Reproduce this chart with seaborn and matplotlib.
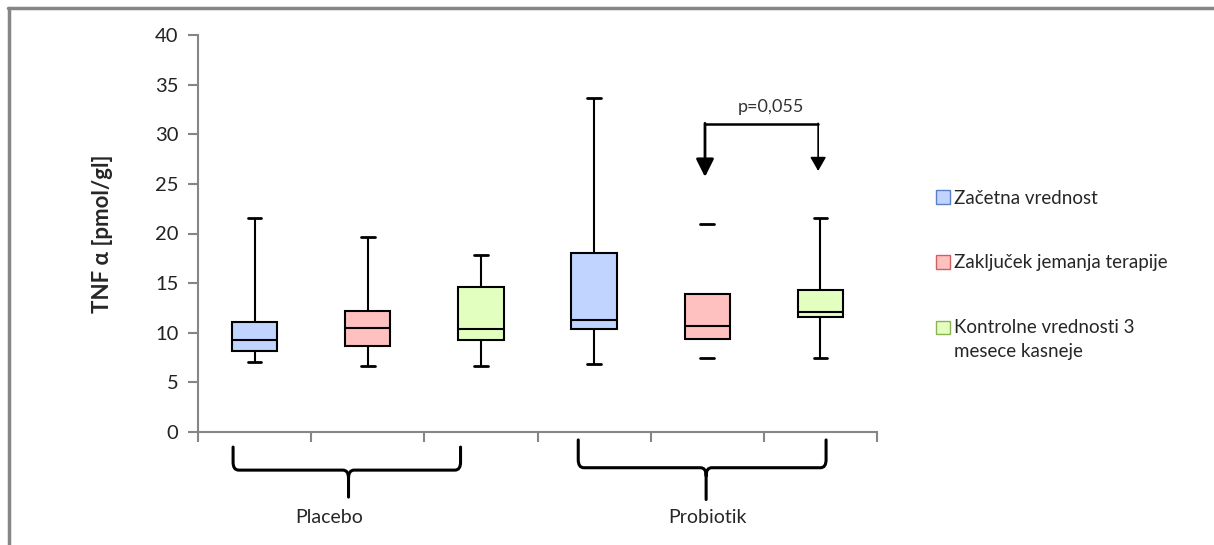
import numpy as np
import pandas as pd
import matplotlib
matplotlib.use('Agg')
import matplotlib.pyplot as plt
from matplotlib.patches import Patch
from matplotlib.path import Path
from matplotlib.patches import PathPatch
from matplotlib.lines import Line2D
import seaborn as sns

# 박스 통계
slots = [0, 1, 2, 3, 4, 5]
groups = ['Placebo', 'Probiotik']
timepoints = ['Začetna vrednost', 'Zaključek jemanja terapije',
              'Kontrolne vrednosti 3\nmesece kasneje']
slot_timepoint = [0, 1, 2, 0, 1, 2]
whisker_low = [7.1, 6.7, 6.6, 6.9, 7.5, 7.5]
q1 = [8.2, 8.7, 9.3, 10.4, 9.4, 11.6]
median = [9.3, 10.5, 10.4, 11.3, 10.7, 12.1]
q3 = [11.1, 12.2, 14.6, 18.0, 13.9, 14.3]
whisker_high = [21.6, 19.6, 17.8, 33.7, 21.0, 21.6]

p_text = 'p=0,055'
ylabel = 'TNF α [pmol/gl]'

fills = ['#C0D4FF', '#FFC0C0', '#E2FFC0']
edges = ['#5B7FC4', '#D06060', '#8DB050']
gray = '#868686'

# 5개 값이면 사분위수가 그대로 나옴
rows = []
for i in slots:
    for v in [whisker_low[i], q1[i], median[i], q3[i], whisker_high[i]]:
        rows.append({'slot': i, 'timepoint': timepoints[slot_timepoint[i]], 'value': v})
df = pd.DataFrame(rows)

sns.set_theme(style='white')
plt.rcParams['font.family'] = ['Lato', 'DejaVu Sans']

fig = plt.figure(figsize=(12.14, 5.45), dpi=100)
ax = fig.add_axes([198 / 1214, 1 - 432 / 545, (877 - 198) / 1214, 397 / 545])

sns.boxplot(data=df, x='slot', y='value', hue='timepoint', hue_order=timepoints,
            palette=fills, saturation=1, dodge=False, width=0.4, whis=(0, 100),
            linecolor='black', linewidth=1.5, ax=ax, legend=False)

# 캡은 짧게, Probiotik 두번째 박스는 수염선 없이 캡만
for ln in ax.lines:
    x = np.asarray(ln.get_xdata(), dtype=float)
    y = np.asarray(ln.get_ydata(), dtype=float)
    if len(x) != 2:
        continue
    if np.allclose(x, 4):
        ln.set_visible(False)
    elif np.isclose(y[0], y[1]) and abs(x[1] - x[0]) < 0.35:
        c = x.mean()
        ln.set_xdata([c - 0.06, c + 0.06])
        ln.set_linewidth(2)

ax.set_xlim(-0.5, 5.5)
ax.set_ylim(0, 40)
ax.set_yticks(np.arange(0, 41, 5))
ax.set_xticks(np.arange(-0.5, 5.6, 1))
ax.set_xticklabels([])
ax.set_xlabel('')
ax.set_ylabel(ylabel, fontsize=16, fontweight='bold')
ax.yaxis.set_label_coords(-0.125, 0.5)
for s in ['top', 'right']:
    ax.spines[s].set_visible(False)
for s in ['left', 'bottom']:
    ax.spines[s].set_color(gray)
    ax.spines[s].set_linewidth(1.5)
ax.tick_params(axis='both', direction='out', length=7, width=1.5, color=gray,
               labelsize=14.5, labelcolor='#222222', left=True, bottom=True)
ax.tick_params(axis='y', pad=7)

# 그룹 괄호
trans = matplotlib.transforms.blended_transform_factory(ax.transData, ax.transAxes)

def brace(x0, x1, xm, ytop, ymid, ytip):
    r = 0.05
    verts = [(x0, ytop), (x0, ymid + 0.02), (x0, ymid), (x0 + r, ymid),
             (xm - r, ymid), (xm, ymid), (xm, ymid - 0.02), (xm, ytip),
             (xm, ymid - 0.02), (xm, ymid), (xm + r, ymid),
             (x1 - r, ymid), (x1, ymid), (x1, ymid + 0.02), (x1, ytop)]
    codes = [Path.MOVETO, Path.LINETO, Path.CURVE3, Path.CURVE3,
             Path.LINETO, Path.CURVE3, Path.CURVE3, Path.LINETO,
             Path.MOVETO, Path.CURVE3, Path.CURVE3,
             Path.LINETO, Path.CURVE3, Path.CURVE3, Path.LINETO]
    ax.add_patch(PathPatch(Path(verts, codes), transform=trans, fill=False,
                           lw=2.2, color='black', clip_on=False, capstyle='round'))

brace(-0.19, 1.82, 0.83, -0.038, -0.096, -0.164)
brace(2.86, 5.05, 3.99, -0.020, -0.090, -0.170)
ax.text(0.66, -0.215, groups[0], transform=trans, ha='center', va='center', fontsize=14)
ax.text(4.0, -0.215, groups[1], transform=trans, ha='center', va='center', fontsize=14)

# p-값 표시
ax.plot([3.98, 4.98], [31, 31], color='black', lw=1.8)
ax.annotate('', xy=(3.98, 25.7), xytext=(3.98, 31.1),
            arrowprops=dict(arrowstyle='-|>,head_length=0.9,head_width=0.45',
                            color='black', lw=2, shrinkA=0, shrinkB=0))
ax.annotate('', xy=(4.98, 26.3), xytext=(4.98, 31.1),
            arrowprops=dict(arrowstyle='-|>,head_length=0.7,head_width=0.4',
                            color='black', lw=1.2, shrinkA=0, shrinkB=0))
ax.text(4.56, 32.7, p_text, ha='center', va='center', fontsize=13, color='#333333')

# 범례
handles = [Patch(facecolor=fills[i], edgecolor=edges[i], lw=1) for i in range(3)]
leg = fig.legend(handles, timepoints, loc='upper left',
                 bbox_to_anchor=(928 / 1214, 1 - 182 / 545),
                 frameon=False, fontsize=13.5, handlelength=0.75, handleheight=0.75,
                 handletextpad=0.25, labelspacing=2.55, borderaxespad=0)
for t in leg.get_texts():
    t.set_linespacing(1.5)
# 두 줄 항목의 네모를 첫 줄에 맞춤
h3 = leg.legend_handles[2]
h3.set_y(h3.get_y() + 9)

# 그림 테두리
fig.add_artist(Line2D([8 / 1214, 1], [1 - 8 / 545, 1 - 8 / 545], color=gray, lw=2.5))
fig.add_artist(Line2D([9 / 1214, 9 / 1214], [0, 1 - 8 / 545], color=gray, lw=2.5))

fig.savefig('out.png', dpi=100)
